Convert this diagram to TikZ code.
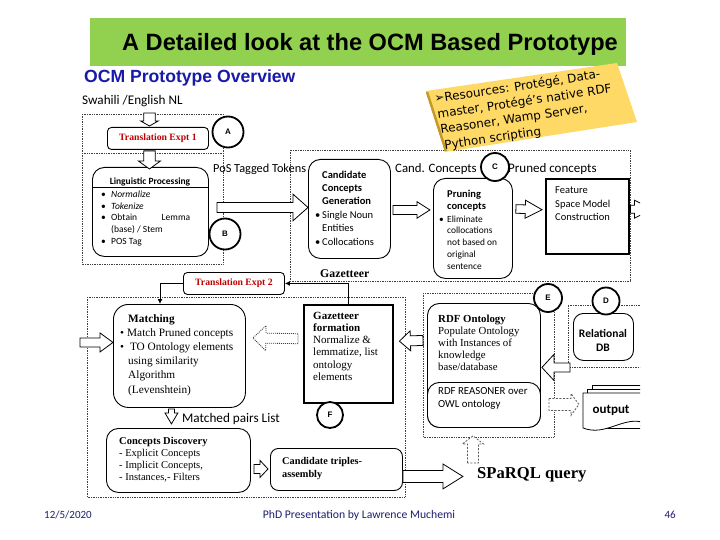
\documentclass[tikz,border=0pt]{standalone}
\usepackage{fontspec}
\setmainfont{Liberation Serif}
\newfontfamily\calfont{Carlito}
\newfontfamily\arialfont{Liberation Sans}
\newfontfamily\dvfont{DejaVu Sans}
\usetikzlibrary{calc,arrows.meta}
\definecolor{titlegreen}{RGB}{146,208,80}
\definecolor{notey}{RGB}{255,217,102}
\definecolor{noteedge}{RGB}{196,154,40}
\definecolor{darkred}{RGB}{192,0,0}
\definecolor{ocmblue}{RGB}{25,25,170}
\definecolor{footblue}{RGB}{30,30,110}
\newcommand\fsz[2]{\fontsize{#1}{#2}\selectfont}
\newcommand\bul[1]{\makebox[#1][l]{\textbullet}}
% hollow block arrow: [style]{start}{tip}{body half}{head half}{head length}
\newcommand\harrow[6][]{%
  \path (#2) coordinate (ha-s) (#3) coordinate (ha-t);
  \path ($(ha-t)!#6!(ha-s)$) coordinate (ha-h);
  \draw[harr,#1] ($(ha-s)!#4!90:(ha-t)$) -- ($(ha-h)!#4!90:(ha-t)$) -- ($(ha-h)!#5!90:(ha-t)$) -- (ha-t) -- ($(ha-h)!#5!-90:(ha-t)$) -- ($(ha-h)!#4!-90:(ha-t)$) -- ($(ha-s)!#4!-90:(ha-t)$) -- cycle;
}
\begin{document}
\begin{tikzpicture}[x=1pt,y=-1pt,
  rbox/.style={draw=black, line width=0.9pt, fill=white, rounded corners=#1, inner sep=0pt, anchor=north west},
  rbox/.default=12pt,
  sbox/.style={draw=black, line width=2.4pt, fill=white, inner sep=0pt, anchor=north west},
  wh/.style 2 args={minimum width=#1pt, minimum height=#2pt},
  dotbox/.style={draw=black!75, densely dotted, line width=0.7pt},
  circ/.style={circle, draw=black, line width=1.8pt, fill=white, minimum size=#1, inner sep=0pt, font=\arialfont\bfseries\fsz{8}{9}},
  circ/.default=28pt,
  txt/.style={inner sep=0pt, anchor=base west, align=left},
  harr/.style={draw=black, fill=white, line width=0.8pt, line join=miter},
  dharr/.style={draw=black!65, dash pattern=on 2pt off 1.5pt},
  tharr/.style={draw=black!75, dash pattern=on 1pt off 1pt},
  conn/.style={draw=black, line width=0.9pt, -{Latex[length=5pt,width=5pt]}},
  redt/.style={text=darkred, font=\bfseries\fsz{9.7}{11}},
  notetxt/.style={inner sep=0pt, anchor=base west, rotate=8.5, font=\dvfont\fsz{12}{13}},
]
\useasboundingbox (0,0) rectangle (720,540);
\fill[white] (0,0) rectangle (720,540);

% title
\fill[titlegreen] (90,18) rectangle (626,66);
\node[inner sep=0pt, anchor=base, font=\arialfont\bfseries\fsz{23.6}{26}] (title) at (370,51) {A Detailed look at the OCM Based Prototype};
\node[inner sep=0pt, anchor=base west, text=ocmblue, font=\arialfont\bfseries\fsz{17.6}{20}] (ocm) at (84,83) {OCM Prototype Overview};

% dotted group boxes
\draw[dotbox] (82,114) rectangle (223,264);
\draw[dotbox] (82,153) -- (223,153);
\draw[dotbox] (290,150) rectangle (630,281);
\draw[dotbox] (87,297) rectangle (405,497);
\draw[dotbox] (423,293) rectangle (554,437);
\begin{scope}
\clip (0,0) rectangle (640,540);
\draw[dotbox] (645,305) -- (568,305) -- (568,367) -- (645,367);
\end{scope}

% input
\node[txt, font=\calfont\fsz{13.2}{14}] (swa) at (82,105) {Swahili /English NL};
\node[rbox=4pt, wh={101}{22}, redt] (trans1) at (107,127) {Translation Expt 1};

% linguistic processing
\node[rbox, wh={116}{89}] (ling) at (92,167) {};
\node[inner sep=0pt, anchor=base, font=\calfont\bfseries\fsz{9.5}{11}] (lingh) at (150,185) {Linguistic Processing};
\draw[line width=0.9pt] (ling.west |- 0,187.5) -- (ling.east |- 0,187.5);
\node[txt, font=\calfont\fsz{9.5}{11.7}] (lingl) at (101,244.3) {\bul{10pt}\textit{Normalize}\\ \bul{10pt}\textit{Tokenize}\\ \bul{10pt}\makebox[79pt][s]{Obtain Lemma}\\ \hspace*{10pt}(base) / Stem\\ \bul{10pt}POS Tag};

% candidate concepts
\node[rbox, wh={82}{99}] (cand) at (308,159) {};
\node[txt, font=\calfont\fsz{10.5}{13.5}] (candt) at (315,245.5) {\hspace*{7pt}\textbf{Candidate}\\ \hspace*{7pt}\textbf{Concepts}\\ \hspace*{7pt}\textbf{Generation}\\ \bul{7pt}Single Noun\\ \hspace*{7pt}Entities\\ \bul{7pt}Collocations};

% pruning
\node[rbox, wh={79}{100}] (prun) at (433,178) {};
\node[txt, font=\calfont\bfseries\fsz{10.5}{12.5}] (prunh) at (447,209.5) {Pruning\\concepts};
\node[txt, font=\calfont\fsz{9.4}{11.8}] (prunl) at (439,269.2) {\bul{8pt}Eliminate\\ \hspace*{8pt}collocations\\ \hspace*{8pt}not based on\\ \hspace*{8pt}original\\ \hspace*{8pt}sentence};

% feature
\node[sbox, wh={83}{75}] (feat) at (545,178) {};
\node[txt, font=\calfont\fsz{10.5}{13.2}] (featt) at (555,220.4) {Feature\\Space Model\\Construction};

% labels middle
\node[txt, font=\calfont\fsz{12.3}{14}] (postag) at (213,173) {PoS Tagged Tokens};
\node[txt, font=\calfont\fsz{12.8}{14}] (candc) at (395,173) {Cand. Concepts};
\node[txt, font=\calfont\fsz{13}{14}] (prunc) at (508,173) {Pruned concepts};
\node[txt, font=\bfseries\fsz{11.8}{13}] (gaz) at (320,277) {Gazetteer};

% translation 2
\node[rbox=4pt, wh={101}{22}, redt] (trans2) at (183,272) {Translation Expt 2};

% matching
\node[rbox=15pt, wh={132}{103}] (match) at (113,304) {};
\node[txt, font=\fsz{11.3}{14.2}] (matcht) at (120,393) {\hspace*{8pt}\textbf{Matching}\\ \bul{7pt}Match Pruned concepts\\ \bul{7pt} TO Ontology elements\\ \hspace*{8pt}using similarity\\ \hspace*{8pt}Algorithm\\ \hspace*{8pt}(Levenshtein)};
\node[txt, font=\calfont\fsz{13.2}{14}] (matched) at (182,422) {Matched pairs List};

% concepts discovery
\node[rbox, wh={144}{64}] (disc) at (106,428) {};
\node[txt, font=\fsz{10.5}{12.2}] (disct) at (119,480.6) {\textbf{Concepts Discovery}\\- Explicit Concepts\\- Implicit Concepts,\\- Instances,- Filters};

% candidate triples
\node[rbox=8pt, wh={132}{42}] (trip) at (270,448) {};
\node[txt, font=\bfseries\fsz{10.3}{13}] (tript) at (282,477) {Candidate triples-\\assembly};

% gazetteer formation
\node[sbox, wh={89}{98}] (gazf) at (303,304) {};
\node[txt, font=\fsz{11}{12.3}] (gazft) at (313,380.5) {\textbf{Gazetteer}\\\textbf{formation}\\Normalize \&\\lemmatize, list\\ontology\\elements};

% RDF ontology
\node[rbox, wh={113}{124}] (rdf) at (427,303) {};
\node[rbox, wh={113}{45}] (reas) at (427,382) {};
\node[txt, font=\fsz{10.8}{12.2}] (rdft) at (438,370.8) {\textbf{RDF Ontology}\\Populate Ontology\\with Instances of\\knowledge\\base/database};
\node[txt, font=\calfont\fsz{10.8}{13}] (reast) at (438,407) {RDF REASONER over\\OWL ontology};

% relational DB
\node[rbox=10pt, wh={60}{47}] (reldb) at (573,313) {};
\node[inner sep=0pt, anchor=base, align=center, font=\calfont\bfseries\fsz{11.5}{14}] (relt) at (603,351) {Relational\\DB};

% output stack
\begin{scope}
\clip (0,0) rectangle (640,540);
\draw[fill=white, line width=0.8pt] (592,385) rectangle (660,425);
\draw[fill=white, line width=0.8pt] (587,389) rectangle (660,428);
\draw[fill=white, line width=0.8pt] (583,393) -- (645,393) -- (645,423) .. controls (624,415) and (606,437) .. (583,428) -- cycle;
\harrow{$(feat.east)+(0,-7.5)$}{$(feat.east)+(22,-7.5)$}{4pt}{9pt}{18pt}
\end{scope}
\node[inner sep=0pt, anchor=base, font=\calfont\bfseries\fsz{13}{14}] (outt) at (611,413) {output};

% SPaRQL
\node[txt, font=\bfseries\fsz{16.6}{18}] (sparql) at (477,478) {SPaRQL query};

% connectors with arrow tips
\draw[conn] (gazf.north) |- (trans2.east);
\draw[conn] (trans2.west) -| ($(match.north west)+(47,0)$);

% hollow block arrows
\harrow{$(trans1.north)+(-8.5,-14)$}{$(trans1.north)+(-8.5,-1)$}{5.8pt}{8.8pt}{5pt}
\harrow{$(trans1.south)+(-8.5,1)$}{$(ling.north)+(-1,2)$}{5.8pt}{11pt}{8pt}
\harrow{$(ling.east)+(8,-4.5)$}{$(cand.west)+(0,-1.5)$}{5pt}{13.3pt}{15pt}
\harrow{$(cand.east)+(2,1)$}{$(cand.east)+(39,1)$}{4.5pt}{8.3pt}{13pt}
\harrow{$(prun.east)+(3,-19.5)$}{$(feat.west)+(-3,-7)$}{4.3pt}{9pt}{16.7pt}
\harrow{$(match.west)+(-33,-13.5)$}{$(match.west)+(0,-13.5)$}{4.5pt}{9.5pt}{13pt}
\harrow[tharr]{$(gazf.west)+(-5,-15.5)$}{$(match.east)+(7,-18)$}{5pt}{12.5pt}{13pt}
\harrow{$(rdf.west)+(-4,-25)$}{$(gazf.east)+(5,-13)$}{5pt}{10pt}{11pt}
\harrow{$(reldb.west)+(-3,30.5)$}{$(rdf.east)+(1,2)$}{4.5pt}{13pt}{12pt}
\harrow[dharr]{$(reas.east)+(8,-0.5)$}{$(reas.east)+(38,-0.5)$}{6pt}{11pt}{8pt}
\harrow[dharr]{$(rdf.south)+(-11,35)$}{$(rdf.south)+(-11,8)$}{5.5pt}{10.5pt}{8pt}
\harrow{$(disc.east)+(3,8.5)$}{$(trip.west)+(-2,-0.5)$}{4.5pt}{8.5pt}{8pt}
\harrow{$(trip.east)+(0,7)$}{$(trip.east)+(60,7)$}{6pt}{12.5pt}{20pt}
\harrow{$(match.south)+(-8,1)$}{$(match.south)+(-8,16)$}{3pt}{6.5pt}{11pt}

% circles
\node[circ=31pt] (cA) at (228,132) {A};
\node[circ=31pt] (cB) at (225,234) {B};
\node[circ] (cC) at (495,167) {C};
\node[circ=27pt] (cD) at (606,301) {D};
\node[circ] (cE) at (548,298) {E};
\node[circ=26pt] (cF) at (330,415) {F};

% sticky note
\fill[notey] (426,91) -- (617,63) -- (637,122) -- (445,152) -- cycle;
\draw[noteedge, line width=2.5pt] (427,92) -- (446,151);
\node[notetxt] (note1) at (435,103) {➢Resources: Protégé, Data-};
\node[notetxt] (note2) at (438,118.5) {master, Protégé’s native RDF};
\node[notetxt] (note3) at (441,134) {Reasoner, Wamp Server,};
\node[notetxt] (note4) at (445,149.5) {Python scripting};

% footer
\node[inner sep=0pt, anchor=base west, text=footblue, font=\calfont\fsz{11}{12}] (date) at (44,518) {12/5/2020};
\node[inner sep=0pt, anchor=base, text=footblue, font=\calfont\fsz{11.7}{12}] (foot) at (359,518) {PhD Presentation by Lawrence Muchemi};
\node[inner sep=0pt, anchor=base east, text=footblue, font=\calfont\fsz{11}{12}] (page) at (676,518) {46};
\end{tikzpicture}
\end{document}
